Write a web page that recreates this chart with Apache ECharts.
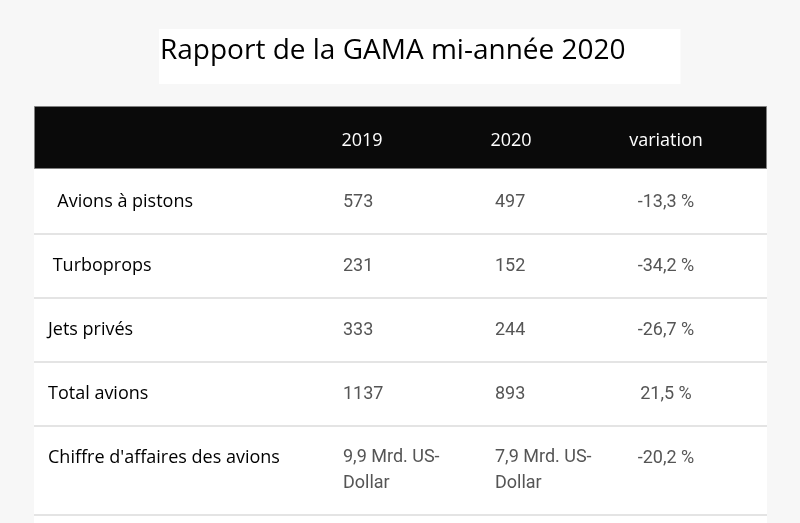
<!DOCTYPE html>
<html>
<head>
<meta charset="utf-8">
<script src="https://cdn.jsdelivr.net/npm/echarts@6/dist/echarts.min.js"></script>
<style>html,body{margin:0;padding:0;background:#f7f7f7;}#c{width:800px;height:523px;}</style>
</head>
<body>
<div id="c"></div>
<script>
const titleText = 'Rapport de la GAMA mi-année 2020';
const columns = ['2019', '2020', 'variation'];
const rowLabels = ['  Avions à pistons', ' Turboprops', 'Jets privés', 'Total avions', "Chiffre d'affaires des avions"];
const values2019 = ['573', '231', '333', '1137', '9,9 Mrd. US-\nDollar'];
const values2020 = ['497', '152', '244', '893', '7,9 Mrd. US-\nDollar'];
const variations = ['-13,3 %', '-34,2 %', '-26,7 %', '21,5 %', '-20,2 %'];

const rowsCat = ['header'].concat(rowLabels.map((_, i) => 'r' + i));
const columnValues = [values2019, values2020, variations];

function rowLines(r) {
  return Math.max.apply(null, columnValues.map(c => c[r].split('\n').length));
}

const labelFont = '"Open Sans", sans-serif';
const numFont = 'Roboto, sans-serif';

const rowData = rowsCat.map((_, i) => [0, i]);
const cellData = [];
columns.forEach((c, ci) => cellData.push([ci, 0, c]));
columnValues.forEach((arr, ci) => arr.forEach((v, ri) => cellData.push([ci, ri + 1, v])));

const chart = echarts.init(document.getElementById('c'), null, {renderer: 'canvas'});
chart.setOption({
  backgroundColor: '#f7f7f7',
  animation: false,
  title: {
    text: titleText,
    left: 159, top: 29,
    padding: [5, 55, 16, 1],
    backgroundColor: '#ffffff',
    textStyle: {fontFamily: labelFont, fontSize: 28, fontWeight: 'normal', color: '#000', lineHeight: 34}
  },
  graphic: [{
    type: 'rect', left: 34, top: 106, z: -1,
    shape: {width: 733, height: 417},
    style: {fill: '#ffffff'}
  }],
  grid: [
    {left: 34, width: 733, top: 106, height: 384},
    {left: 286, width: 456, top: 106, height: 384}
  ],
  xAxis: [
    {type: 'category', gridIndex: 0, data: ['row'], show: false},
    {type: 'category', gridIndex: 1, data: columns, show: false}
  ],
  yAxis: [
    {type: 'category', gridIndex: 0, data: rowsCat, inverse: true, show: false},
    {type: 'category', gridIndex: 1, data: rowsCat, inverse: true, show: false}
  ],
  series: [
    {
      type: 'custom', xAxisIndex: 0, yAxisIndex: 0, data: rowData, z: 1,
      renderItem: function (params, api) {
        const r = api.value(1);
        const cs = params.coordSys;
        const c = api.coord([0, r]);
        const band = api.size([1, 1])[1];
        const top = c[1] - band / 2;
        if (r === 0) {
          return {type: 'rect', shape: {x: cs.x + 0.5, y: Math.round(top) + 0.5, width: cs.width - 1, height: band - 2},
            style: {fill: '#0a0a0a', stroke: '#808080', lineWidth: 1}};
        }
        const lines = rowLines(r - 1);
        const bottom = top + band + (lines - 1) * 25;
        return {type: 'group', children: [
          {type: 'line', shape: {x1: cs.x, y1: bottom, x2: cs.x + cs.width, y2: bottom},
            style: {stroke: '#e4e4e4', lineWidth: 2}},
          {type: 'text', style: {text: rowLabels[r - 1], x: cs.x + 14, y: c[1], fill: '#000',
            fontFamily: labelFont, fontSize: 18, align: 'left', verticalAlign: 'middle'}}
        ]};
      }
    },
    {
      type: 'custom', xAxisIndex: 1, yAxisIndex: 1, data: cellData, z: 2,
      renderItem: function (params, api) {
        const ci = api.value(0), r = api.value(1);
        const text = cellData[params.dataIndex][2];
        const c = api.coord([ci, r]);
        if (r === 0) {
          return {type: 'text', style: {text: text, x: ci === 1 ? c[0] - 3 : c[0], y: c[1] + 2.5, fill: '#ffffff',
            fontFamily: labelFont, fontSize: 18, align: 'center', verticalAlign: 'middle'}};
        }
        const multi = text.indexOf('\n') >= 0;
        const centered = ci === 2;
        return {type: 'text', style: {text: text, x: centered ? c[0] : c[0] - 19,
          y: multi ? c[1] - 14 : c[1], fill: '#555555', fontFamily: numFont, fontSize: 18,
          lineHeight: 26, align: centered ? 'center' : 'left', verticalAlign: multi ? 'top' : 'middle'}};
      }
    }
  ]
});
</script>
</body>
</html>
